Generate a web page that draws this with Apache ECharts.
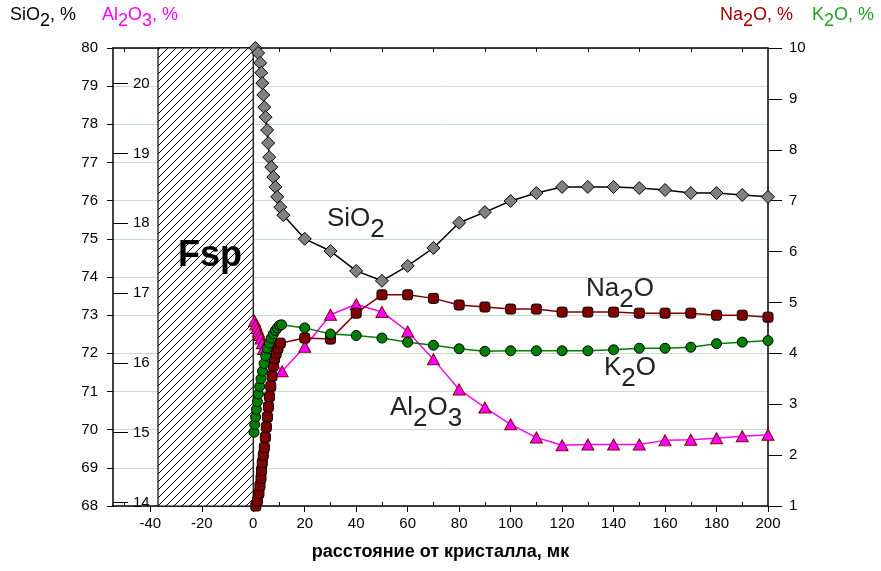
<!DOCTYPE html>
<html><head><meta charset="utf-8">
<script src="https://cdn.jsdelivr.net/npm/echarts@6/dist/echarts.min.js"></script>
<style>html,body{margin:0;padding:0;background:#fff}#c{width:881px;height:571px}</style>
</head><body><div id="c"></div><script>
// ---- data ----
const xMajorTicks = [-40,-20,0,20,40,60,80,100,120,140,160,180,200];
const xMinorTicks = [-50,-30,-10,10,30,50,70,90,110,130,150,170,190];
const al2O3Ticks = [14,15,16,17,18,19,20];
const hatchRange = [-37, 0];
const distX = [20,30,40,50,60,70,80,90,100,110,120,130,140,150,160,170,180,190,200];

const siO2DenseX = [0.8,1.9,2.7,3.1,3.5,3.9,4.3,4.8,5.4,5.8,6.2,7.0,7.8,8.6,9.3,10.5,11.7];
const siO2DenseY = [80.0,79.87,79.61,79.35,79.08,78.77,78.45,78.19,77.85,77.51,77.14,76.88,76.62,76.36,76.10,75.83,75.62];
const siO2Y = [75.0,74.68,74.16,73.9,74.29,74.76,75.42,75.70,75.99,76.20,76.36,76.36,76.36,76.33,76.28,76.20,76.20,76.15,76.10];

const al2O3DenseX = [0.5,1.0,1.5,2.0,2.5,3.0,3.5,4.0,11.2];
const al2O3DenseY = [16.6,16.55,16.5,16.45,16.4,16.35,16.28,16.2,15.88];
const al2O3Y = [16.23,16.69,16.84,16.73,16.45,16.05,15.62,15.36,15.12,14.93,14.82,14.83,14.83,14.83,14.89,14.90,14.92,14.95,14.97];

const na2ODenseX = [1.0,1.6,2.2,2.6,3.0,3.2,3.5,3.9,4.3,4.7,5.1,5.5,5.9,6.3,6.8,7.3,7.8,8.3,8.9,9.6,10.5];
const na2ODenseY = [1.0,1.1,1.25,1.4,1.55,1.7,1.85,2.0,2.15,2.35,2.55,2.75,2.95,3.15,3.35,3.55,3.75,3.9,4.0,4.1,4.2];
const na2OY = [4.30,4.28,4.79,5.15,5.15,5.08,4.95,4.91,4.87,4.87,4.81,4.81,4.81,4.79,4.79,4.79,4.75,4.75,4.71];

const k2ODenseX = [0.3,0.6,0.9,1.2,1.6,2.0,2.5,3.0,3.6,4.2,4.8,5.4,6.2,7.0,7.8,8.6,9.4,10.2,11.0];
const k2ODenseY = [2.45,2.6,2.75,2.9,3.05,3.2,3.35,3.5,3.65,3.8,3.95,4.1,4.2,4.3,4.38,4.45,4.5,4.55,4.56];
const k2OY = [4.50,4.38,4.35,4.30,4.22,4.16,4.09,4.04,4.05,4.05,4.05,4.05,4.07,4.10,4.10,4.12,4.19,4.22,4.25];

// ---- helpers ----
function pairs(xs, ys){ return xs.map((x,i)=>[x, ys[i]]); }
const FONT = '"Liberation Sans", Arial, sans-serif';
const mctx = document.createElement('canvas').getContext('2d');
function subLabel(x, y, parts, size, color, weight, subShift){
  const font = (weight||'normal') + ' ' + size + 'px ' + FONT;
  mctx.font = font;
  let cx = x; const children = [];
  parts.forEach(p => {
    const t = p[0], sub = p[1];
    children.push({type:'text', x: cx, y: y + (sub ? subShift : 0), z: 100,
      style:{text:t, font:font, fill:color, align:'left', verticalAlign:'middle', textAlign:'left', textVerticalAlign:'middle'}});
    cx += mctx.measureText(t).width;
  });
  return {type:'group', z:100, children};
}
function hatchPattern(){
  const c = document.createElement('canvas'); c.width = 8; c.height = 8;
  const g = c.getContext('2d');
  g.fillStyle = '#fff'; g.fillRect(0,0,8,8);
  g.fillStyle = '#000';
  for (let i=0;i<8;i++) g.fillRect(i, 7-i, 1, 1);
  return {image: c, repeat: 'repeat'};
}
const pat = hatchPattern();

const chart = echarts.init(document.getElementById('c'), null, {renderer:'canvas'});
const xMin = -54.5, xMax = 200;
const axisFont = {fontFamily: FONT, fontSize: 15, color: '#000'};
const option = {
  animation: false,
  grid: {left: 113, right: 113, top: 48, bottom: 65},
  xAxis: [
    {type:'value', min:xMin, max:xMax, position:'bottom',
     axisLine:{onZero:false, lineStyle:{color:'#000', width:1.5}},
     axisTick:{customValues:xMajorTicks, length:6, lineStyle:{color:'#000'}},
     axisLabel:Object.assign({customValues:xMajorTicks, margin:10}, axisFont),
     splitLine:{show:false},
     name:'расстояние от кристалла, мк', nameLocation:'middle', nameGap:37,
     nameTextStyle:{fontFamily:FONT, fontSize:18, fontWeight:'bold', color:'#000'}},
    {type:'value', min:xMin, max:xMax, position:'bottom',
     axisLine:{show:false, onZero:false},
     axisTick:{customValues:xMinorTicks, inside:true, length:4, lineStyle:{color:'#000'}},
     axisLabel:{show:false}, splitLine:{show:false}},
    {type:'value', min:xMin, max:xMax, position:'top',
     axisLine:{onZero:false, lineStyle:{color:'#000', width:1.5}},
     axisTick:{customValues:xMinorTicks, inside:true, length:4, lineStyle:{color:'#000'}},
     axisLabel:{show:false}, splitLine:{show:false}}
  ],
  yAxis: [
    {type:'value', min:68, max:80, interval:1, position:'left',
     axisLine:{show:true, onZero:false, lineStyle:{color:'#000', width:1.5}},
     axisTick:{show:true, length:6, lineStyle:{color:'#000'}},
     axisLabel:Object.assign({margin:15}, axisFont),
     splitLine:{show:true, lineStyle:{color:'#c4e0c4', width:1}}},
    {type:'value', min:13.95, max:20.51, position:'left',
     axisLine:{show:false, onZero:false},
     axisTick:{show:true, inside:true, length:15, customValues:al2O3Ticks, lineStyle:{color:'#000'}},
     axisLabel:Object.assign({inside:true, margin:20, customValues:al2O3Ticks}, axisFont),
     splitLine:{show:false}},
    {type:'value', min:1, max:10, interval:1, position:'right',
     axisLine:{show:true, onZero:false, lineStyle:{color:'#000', width:1.5}},
     axisTick:{show:true, length:14, lineStyle:{color:'#000'}},
     axisLabel:Object.assign({margin:21}, axisFont),
     splitLine:{show:false}}
  ],
  series: [
    {type:'custom', xAxisIndex:0, yAxisIndex:0, z:1, silent:true,
     data:[hatchRange], encode:{x:[0,1]},
     renderItem:function(params, api){
       const a = api.coord([api.value(0), 80]);
       const b = api.coord([api.value(1), 68]);
       return {type:'rect', shape:{x:a[0], y:a[1], width:b[0]-a[0], height:b[1]-a[1]},
               style:{fill:pat, stroke:'#000', lineWidth:1.2}};
     }},
    {name:'SiO2', type:'line', xAxisIndex:0, yAxisIndex:0, z:2,
     data:pairs(siO2DenseX.concat(distX), siO2DenseY.concat(siO2Y)),
     symbol:'diamond', symbolSize:13,
     lineStyle:{color:'#000', width:1.5},
     itemStyle:{color:'#808080', borderColor:'#000', borderWidth:1}},
    {name:'Al2O3', type:'line', xAxisIndex:0, yAxisIndex:1, z:3,
     data:pairs(al2O3DenseX.concat(distX), al2O3DenseY.concat(al2O3Y)),
     symbol:'triangle', symbolSize:[12,11],
     lineStyle:{color:'#ff00ff', width:1.5},
     itemStyle:{color:'#ff00ff', borderColor:'#800000', borderWidth:1}},
    {name:'Na2O', type:'line', xAxisIndex:0, yAxisIndex:2, z:4,
     data:pairs(na2ODenseX.concat(distX), na2ODenseY.concat(na2OY)),
     symbol:'roundRect', symbolSize:10,
     lineStyle:{color:'#800000', width:1.5},
     itemStyle:{color:'#800000', borderColor:'#000', borderWidth:1}},
    {name:'K2O', type:'line', xAxisIndex:0, yAxisIndex:2, z:5,
     data:pairs(k2ODenseX.concat(distX), k2ODenseY.concat(k2OY)),
     symbol:'circle', symbolSize:10,
     lineStyle:{color:'#008000', width:1.5},
     itemStyle:{color:'#008000', borderColor:'#000', borderWidth:1}}
  ],
  graphic: [
    subLabel(10, 15, [['SiO',0],['2',1],[', %',0]], 18, '#000', 'normal', 6),
    subLabel(102, 15, [['Al',0],['2',1],['O',0],['3',1],[', %',0]], 18, '#ff00ff', 'normal', 6),
    subLabel(720, 15, [['Na',0],['2',1],['O, %',0]], 18, '#a00000', 'normal', 6),
    subLabel(812, 15, [['K',0],['2',1],['O, %',0]], 18, '#22a022', 'normal', 6),
    subLabel(327, 219, [['SiO',0],['2',1]], 26, '#222', 'normal', 11),
    subLabel(586, 289, [['Na',0],['2',1],['O',0]], 26, '#222', 'normal', 11),
    subLabel(604, 368, [['K',0],['2',1],['O',0]], 26, '#222', 'normal', 11),
    subLabel(390, 408, [['Al',0],['2',1],['O',0],['3',1]], 26, '#222', 'normal', 11),
    subLabel(178, 256, [['Fsp',0]], 36, '#000', 'bold', 0)
  ]
};
chart.setOption(option);
</script></body></html>
